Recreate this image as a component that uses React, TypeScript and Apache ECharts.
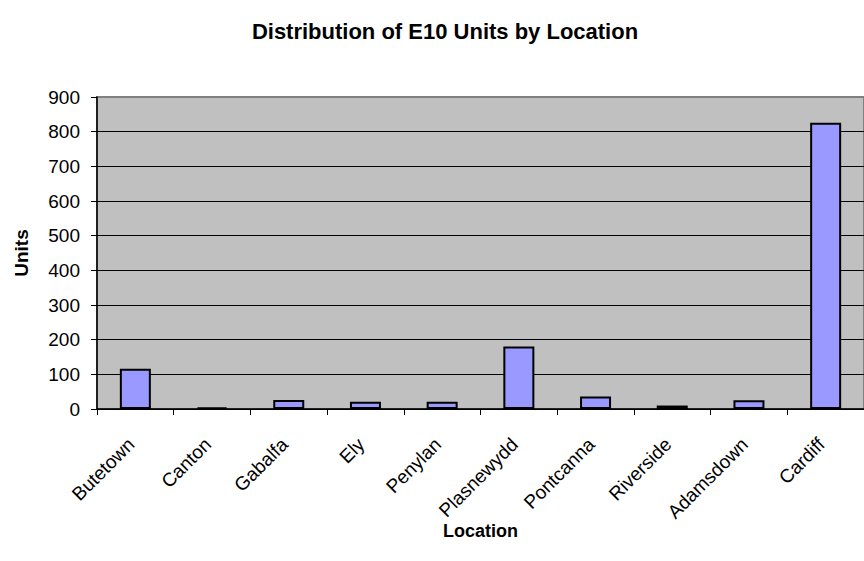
import React, { useEffect, useRef } from "react";
import * as echarts from "echarts";

const categories = ["Butetown", "Canton", "Gabalfa", "Ely", "Penylan", "Plasnewydd", "Pontcanna", "Riverside", "Adamsdown", "Cardiff"];
const units = [116, 5, 26, 21, 21, 180, 36, 10, 25, 826];
const yTicks = { min: 0, max: 900, interval: 100 };

export default function App() {
  const ref = useRef<HTMLDivElement>(null);
  useEffect(() => {
    if (!ref.current) return;
    const chart = echarts.init(ref.current, null, { renderer: "svg" });
    const font = "Liberation Sans, Arial, sans-serif";
    chart.setOption({
      animation: false,
      backgroundColor: "#ffffff",
      title: {
        text: "Distribution of E10 Units by Location",
        left: 440,
        top: 15,
        textAlign: "center",
        textStyle: { fontFamily: font, fontSize: 22, fontWeight: "bold", color: "#000" },
      },
      grid: {
        left: 97,
        top: 97,
        width: 780,
        height: 312,
        show: true,
        backgroundColor: "#C0C0C0",
        borderColor: "#808080",
        borderWidth: 2,
      },
      xAxis: {
        type: "category",
        data: categories,
        name: "Location",
        nameLocation: "middle",
        nameGap: 113,
        nameMoveOverlap: false,
        nameTextStyle: { fontFamily: font, fontSize: 18, fontWeight: "bold", color: "#000" },
        axisLine: { show: true, lineStyle: { color: "#000", width: 1.5 } },
        axisTick: { show: true, length: 6, alignWithLabel: false, lineStyle: { color: "#000" } },
        axisLabel: {
          rotate: 45,
          margin: 28,
          padding: [0, 6, 0, 0],
          fontFamily: font,
          fontSize: 19,
          color: "#000",
          interval: 0,
        },
        splitLine: { show: false },
      },
      yAxis: {
        type: "value",
        min: yTicks.min,
        max: yTicks.max,
        interval: yTicks.interval,
        name: "Units",
        nameLocation: "middle",
        nameGap: 66,
        nameRotate: 90,
        nameTextStyle: { fontFamily: font, fontSize: 19, fontWeight: "bold", color: "#000" },
        axisLine: { show: true, lineStyle: { color: "#000", width: 1.5 } },
        axisTick: { show: true, length: 6, inside: false, lineStyle: { color: "#000" } },
        axisLabel: { margin: 17, fontFamily: font, fontSize: 19, color: "#000" },
        splitLine: { show: true, showMaxLine: false, lineStyle: { color: "#000", width: 1 } },
      },
      series: [
        {
          type: "bar",
          data: units,
          barWidth: 31,
          itemStyle: { color: "#9999FF", borderColor: "#000", borderWidth: 2 },
        },
      ],
    });
    return () => chart.dispose();
  }, []);
  return <div ref={ref} style={{ position: "fixed", left: 0, top: 0, width: 864, height: 561 }} />;
}
